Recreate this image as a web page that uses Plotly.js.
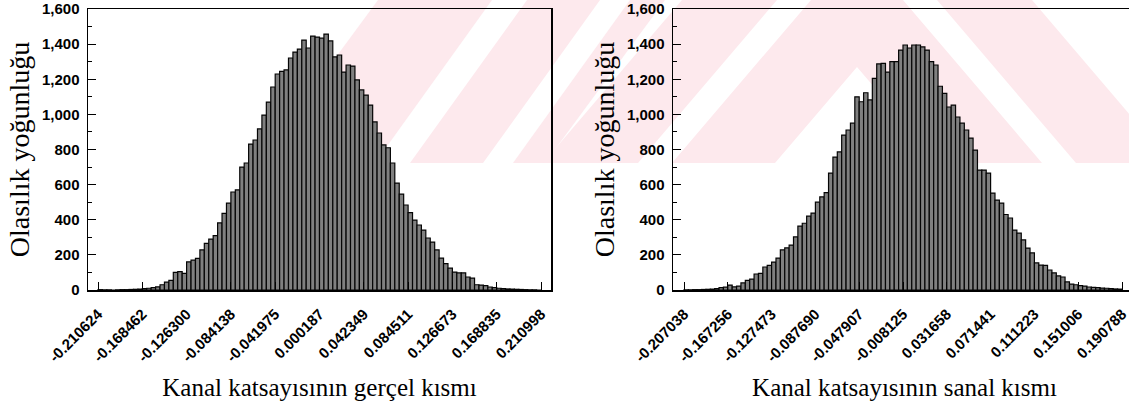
<!DOCTYPE html>
<html><head><meta charset="utf-8">
<script src="https://cdn.plot.ly/plotly-3.0.1.min.js"></script>
<style>html,body{margin:0;padding:0;overflow:hidden;background:#fff}#chart{width:1136px;height:405px}</style>
</head><body><div id="chart"></div>
<script>
// ---- data ----
const realTickLabels = ['-0.210624','-0.168462','-0.126300','-0.084138','-0.041975','0.000187','0.042349','0.084511','0.126673','0.168835','0.210998'];
const imagTickLabels = ['-0.207038','-0.167256','-0.127473','-0.087690','-0.047907','-0.008125','0.031658','0.071441','0.111223','0.151006','0.190788'];
const realCounts = [
  2,1,1,0,1,2,2,3,4,5,
  8,10,14,18,30,45,55,100,105,95,
  160,170,180,228,265,290,310,382,436,495,
  558,570,700,723,831,854,917,996,1070,1156,
  1230,1245,1253,1321,1355,1372,1423,1378,1446,1440,
  1434,1457,1418,1327,1338,1241,1281,1275,1196,1139,
  1110,1053,957,894,826,810,723,609,546,484,
  440,398,370,341,296,273,228,182,150,125,
  102,97,97,74,68,30,28,25,17,14,
  10,8,6,5,4,3,2,1,1,0];
const imagCounts = [
  1,1,2,2,3,4,5,8,14,16,
  28,18,22,40,55,62,91,95,131,140,
  159,182,228,240,256,302,364,380,421,438,
  500,530,555,666,757,786,882,911,950,1100,
  1072,1123,1082,1205,1287,1290,1241,1300,1300,1366,
  1395,1378,1395,1395,1384,1366,1300,1281,1160,1120,
  1042,1053,985,950,911,865,797,683,683,666,
  552,512,495,430,410,341,324,285,239,211,
  154,142,140,114,97,80,74,46,34,30,
  25,22,17,15,14,11,10,8,6,5];
const yTitle = 'Olasılık yoğunluğu';
const realTitle = 'Kanal katsayısının gerçel kısmı';
const imagTitle = 'Kanal katsayısının sanal kısmı';

// bins: the labelled ticks are every 10th bin edge
function binCenters(tickLabels, counts){
  const t = tickLabels.map(Number);
  const w = (t[t.length-1]-t[0])/counts.length;
  return {w, x: counts.map((_,i)=>t[0]+(i+0.5)*w), t};
}
const rb = binCenters(realTickLabels, realCounts);
const ib = binCenters(imagTickLabels, imagCounts);

const W = 1136, H = 405;
const barStyle = {color:'#808080', line:{color:'#050505', width:1.2}};

const traces = [
  {type:'bar', x: rb.x, y: realCounts, width: rb.w, marker: barStyle, xaxis:'x', yaxis:'y', hoverinfo:'x+y'},
  {type:'bar', x: ib.x, y: imagCounts, width: ib.w, marker: barStyle, xaxis:'x2', yaxis:'y2', hoverinfo:'x+y'}
];

// ---- faint background watermark (pixel polygons -> paper coords) ----
function clip(poly, xmin, xmax, ymin, ymax){
  const edges = [
    p=>p[0]>=xmin, p=>p[0]<=xmax, p=>p[1]>=ymin, p=>p[1]<=ymax];
  const inter = [
    (a,b)=>{const t=(xmin-a[0])/(b[0]-a[0]);return [xmin,a[1]+t*(b[1]-a[1])];},
    (a,b)=>{const t=(xmax-a[0])/(b[0]-a[0]);return [xmax,a[1]+t*(b[1]-a[1])];},
    (a,b)=>{const t=(ymin-a[1])/(b[1]-a[1]);return [a[0]+t*(b[0]-a[0]),ymin];},
    (a,b)=>{const t=(ymax-a[1])/(b[1]-a[1]);return [a[0]+t*(b[0]-a[0]),ymax];}];
  let out = poly;
  for(let e=0;e<4;e++){
    const inp = out; out = [];
    for(let i=0;i<inp.length;i++){
      const cur = inp[i], prev = inp[(i+inp.length-1)%inp.length];
      const ci = edges[e](cur), pi = edges[e](prev);
      if(ci){ if(!pi) out.push(inter[e](prev,cur)); out.push(cur); }
      else if(pi){ out.push(inter[e](prev,cur)); }
    }
    if(!out.length) break;
  }
  return out;
}
function wmShape(poly){
  const c = clip(poly, 0, W, 0, 163);
  const path = 'M' + c.map(p=>(p[0]/W).toFixed(5)+','+(1-p[1]/H).toFixed(5)).join('L') + 'Z';
  return {type:'path', xref:'paper', yref:'paper', path, fillcolor:'#fde9ed', line:{width:0}, layer:'below'};
}
const shapes = [
  // slanted stripes on the left
  wmShape([[258,163],[375,163],[492,0],[378,0]]),
  wmShape([[410,163],[483,163],[600,0],[527,0]]),
  wmShape([[513,163],[545,163],[665,0],[630,0]]),
  // chevron on the right
  wmShape([[811,0],[903,0],[1042,163],[939,163],[857,67],[775,163],[672,163]]),
  wmShape([[682,0],[777,0],[638,163],[543,163]]),
  wmShape([[937,0],[1032,0],[1171,163],[1076,163]])
];

const tickFont = {family:'Liberation Sans, Arial, sans-serif', size:15, color:'#000', weight:'bold'};
const xTitleFont = {family:'Liberation Serif, Times New Roman, serif', size:25, color:'#000'};
const yTitleFont = {family:'Liberation Serif, Times New Roman, serif', size:28, color:'#000'};

function xAxis(b, labels, title, domain, range, anchor){
  return {
    domain, range, anchor, autorange:false,
    tickmode:'array', tickvals:b.t, ticktext:labels, tickangle:-45,
    ticks:'inside', ticklen:8, tickwidth:1, tickcolor:'#000',
    ticklabelstandoff:8,
    tickfont:tickFont, showgrid:false, zeroline:false,
    showline:true, linecolor:'#000', linewidth:1.5, mirror:true,
    title:{text:title, font:xTitleFont, standoff:14}, automargin:false
  };
}
function yAxis(domain, anchor){
  return {
    domain, anchor, range:[0,1600], autorange:false,
    tickmode:'linear', tick0:0, dtick:200, tickformat:',d',
    ticks:'inside', ticklen:8, tickwidth:1, tickcolor:'#000',
    minor:{dtick:100, ticks:'inside', ticklen:4, tickcolor:'#000', showgrid:false},
    ticklabelstandoff:4,
    tickfont:tickFont, showgrid:false, zeroline:false,
    showline:true, linecolor:'#000', linewidth:1.5, mirror:true,
    title:{text:yTitle, font:yTitleFont, standoff:4}, automargin:false
  };
}
const yd = [1-290/H, 1-9/H];
const layout = {
  width:W, height:H, margin:{l:0,r:0,t:0,b:0},
  paper_bgcolor:'#fff', plot_bgcolor:'rgba(0,0,0,0)',
  showlegend:false, bargap:0,
  xaxis: xAxis(rb, realTickLabels, realTitle, [88/W, 551/W], [-0.22014, 0.22052], 'y'),
  yaxis: yAxis(yd, 'x'),
  xaxis2: xAxis(ib, imagTickLabels, imagTitle, [673/W, 1], [-0.21703, 0.2035], 'y2'),
  yaxis2: yAxis(yd, 'x2'),
  shapes
};
Plotly.newPlot('chart', traces, layout, {displayModeBar:false, staticPlot:true});
</script></body></html>
